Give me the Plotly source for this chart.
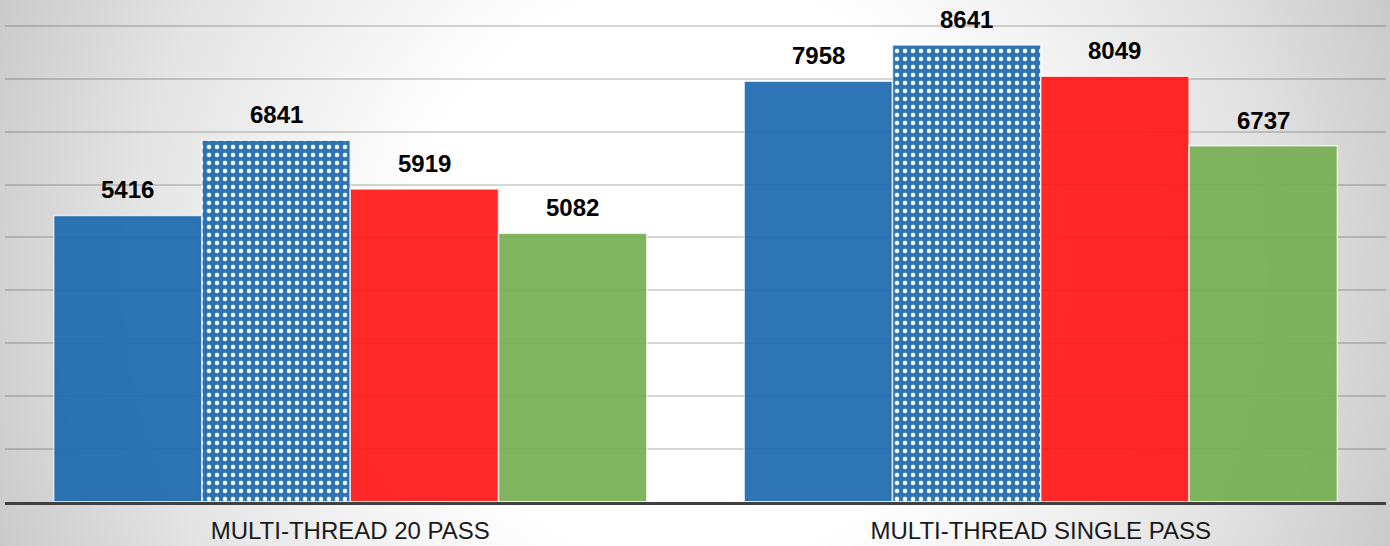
import base64
import plotly.graph_objects as go

categories = ["MULTI-THREAD 20 PASS", "MULTI-THREAD SINGLE PASS"]
series_names = ["Series A", "Series B", "Series C", "Series D"]
series_a = [5416, 7958]
series_b = [6841, 8641]
series_c = [5919, 8049]
series_d = [5082, 6737]
series_values = [series_a, series_b, series_c, series_d]
y_ticks = [0, 1000, 2000, 3000, 4000, 5000, 6000, 7000, 8000, 9000]

W, H = 1390, 546
# colours pre-darkened so that at opacity 0.9 over a light background they match
colors = ["#1866AE", "#1866AE", "#FF1212", "#75AD4E"]

svg = f'''<svg xmlns="http://www.w3.org/2000/svg" width="{W}" height="{H}">
<defs><radialGradient id="g" gradientUnits="userSpaceOnUse" cx="695" cy="273" r="760">
<stop offset="0" stop-color="#ffffff"/>
<stop offset="0.38" stop-color="#ffffff"/>
<stop offset="0.74" stop-color="#e4e4e4"/>
<stop offset="1" stop-color="#c8c8c8"/>
</radialGradient></defs>
<rect x="0" y="0" width="{W}" height="{H}" fill="url(#g)"/></svg>'''
src = "data:image/svg+xml;base64," + base64.b64encode(svg.encode()).decode()

x_pos = list(range(len(categories)))
bargap = 0.141
n = len(series_values)
bar_w = (1 - bargap) / n

fig = go.Figure()
annotations = []
for i, (name, vals) in enumerate(zip(series_names, series_values)):
    marker = dict(color=colors[i], opacity=0.9,
                  line=dict(color="rgba(255,255,255,0.75)", width=1.5))
    if i == 1:
        marker["pattern"] = dict(shape=".", fgcolor="white", bgcolor=colors[i],
                                 size=8, solidity=0.25, fillmode="replace")
    fig.add_trace(go.Bar(name=name, x=x_pos, y=vals, marker=marker, hoverinfo="y"))
    for j, v in enumerate(vals):
        annotations.append(dict(
            x=x_pos[j] + (i - (n - 1) / 2) * bar_w, y=v, xref="x", yref="y",
            text=f"<b>{v}</b>", showarrow=False, xanchor="center", yanchor="bottom",
            yshift=10, font=dict(family="Liberation Sans, Arial", size=24, color="black"),
        ))

top_px, base_px = 26.1, 501.7
ymax = 9060
ppu = (base_px - top_px) / 9000.0
dom_bottom = (H - base_px) / H
dom_top = (H - (base_px - ymax * ppu)) / H

fig.update_layout(
    width=W, height=H,
    margin=dict(l=0, r=0, t=0, b=0),
    paper_bgcolor="#d8d8d8",
    plot_bgcolor="rgba(0,0,0,0)",
    barmode="group", bargap=bargap, bargroupgap=0.0,
    showlegend=False,
    annotations=annotations,
    images=[dict(source=src, xref="paper", yref="paper", x=0, y=1,
                 sizex=1, sizey=1, xanchor="left", yanchor="top",
                 sizing="stretch", layer="below")],
    xaxis=dict(domain=[5 / W, 1386 / W], range=[-0.5, len(categories) - 0.5],
               tickvals=x_pos, ticktext=categories,
               showgrid=False, showline=True, zeroline=False,
               linecolor="#404040", linewidth=3, ticks="",
               tickfont=dict(family="Liberation Sans, Arial", size=24, color="#1a1a1a"),
               ticklabelstandoff=5),
    yaxis=dict(domain=[dom_bottom, dom_top], range=[0, ymax], tickvals=y_ticks,
               showticklabels=False, showgrid=True, gridcolor="rgba(0,0,0,0.16)",
               gridwidth=2, zeroline=False, showline=False),
)

fig.write_html("out.html", config={"displayModeBar": False},
               post_script="document.body.style.margin='0';document.body.style.overflow='hidden';")
